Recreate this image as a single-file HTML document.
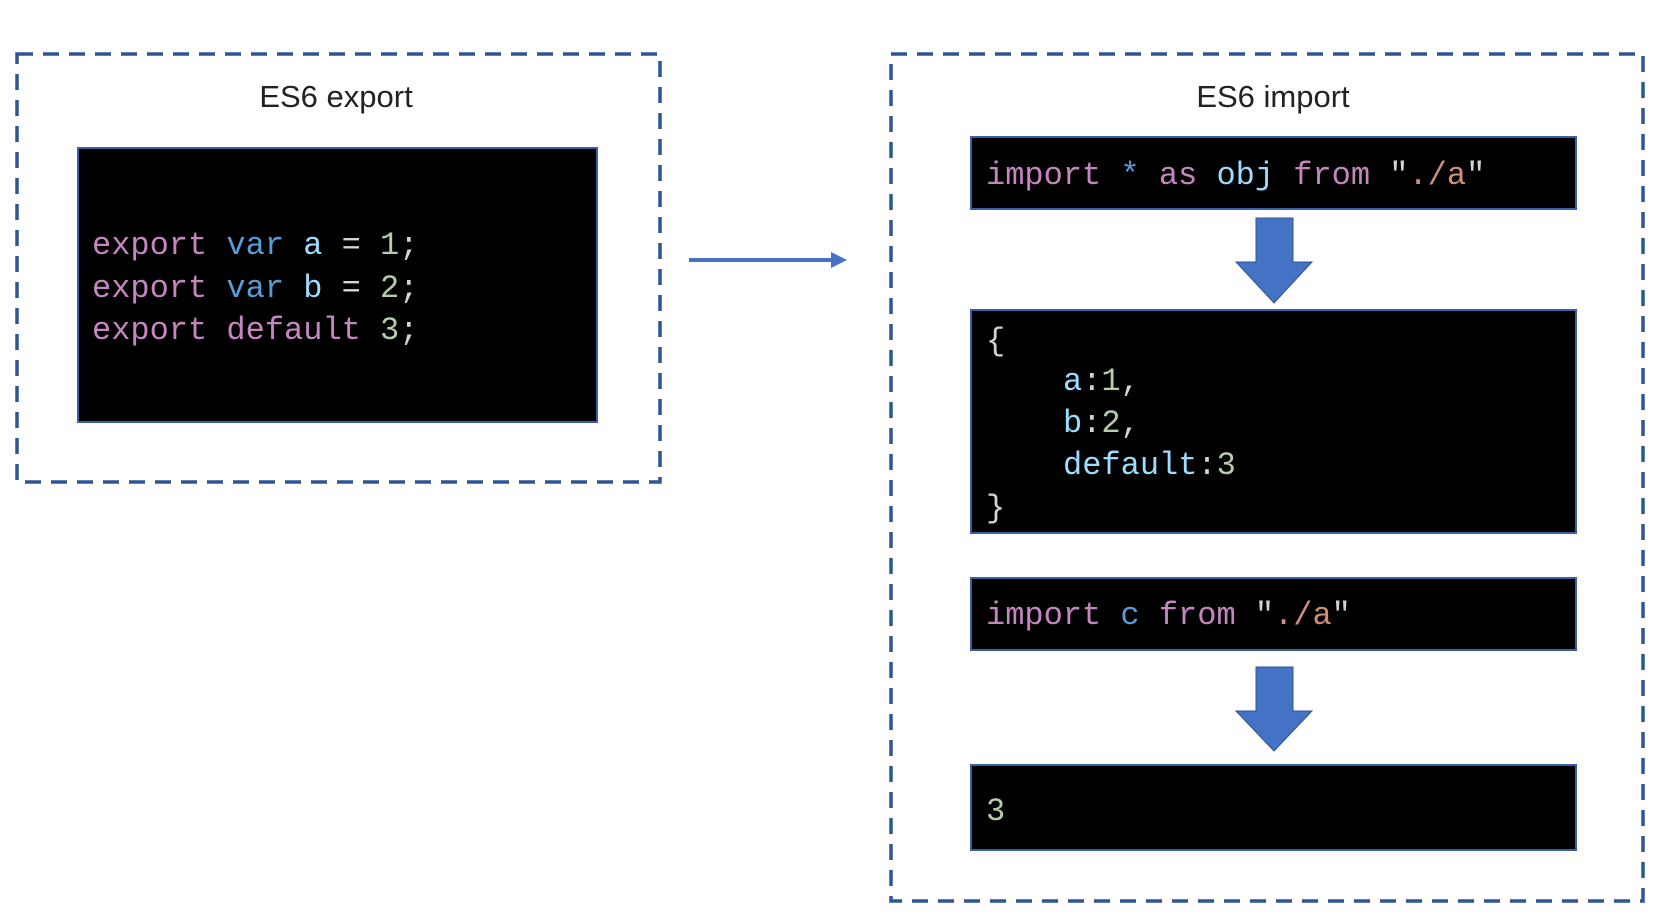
<!DOCTYPE html>
<html><head><meta charset="utf-8"><style>
html,body{margin:0;padding:0;background:#fff;}
svg{display:block;}
.t{font-family:"Liberation Sans",sans-serif;font-size:31px;fill:#222;}
.c{font-family:"Liberation Mono",monospace;font-size:32px;}
.p{fill:#c586c0}.b{fill:#569cd6}.lb{fill:#9cdcfe}.g{fill:#b5cea8}.w{fill:#d4d4d4}.o{fill:#ce9178}
</style></head><body>
<svg width="1669" height="918" viewBox="0 0 1669 918" xmlns="http://www.w3.org/2000/svg">
<rect x="17" y="54" width="643" height="428" fill="none" stroke="#2f5597" stroke-width="3.5" stroke-dasharray="16,10"/>
<rect x="891" y="54" width="752" height="847" fill="none" stroke="#2f5597" stroke-width="3.5" stroke-dasharray="16,10"/>
<text class="t" x="336" y="107" text-anchor="middle">ES6 export</text>
<text class="t" x="1273" y="107" text-anchor="middle">ES6 import</text>
<rect x="78" y="148" width="519" height="274" fill="#000" stroke="#3a5fa8" stroke-width="2"/>
<text class="c" x="92" y="254"><tspan class="p">export</tspan> <tspan class="b">var</tspan> <tspan class="lb">a</tspan> <tspan class="w">=</tspan> <tspan class="g">1</tspan><tspan class="w">;</tspan></text>
<text class="c" x="92" y="297"><tspan class="p">export</tspan> <tspan class="b">var</tspan> <tspan class="lb">b</tspan> <tspan class="w">=</tspan> <tspan class="g">2</tspan><tspan class="w">;</tspan></text>
<text class="c" x="92" y="339"><tspan class="p">export</tspan> <tspan class="p">default</tspan> <tspan class="g">3</tspan><tspan class="w">;</tspan></text>
<line x1="689" y1="260" x2="833" y2="260" stroke="#4472c4" stroke-width="4"/>
<polygon points="831,252 847,260 831,268" fill="#4472c4"/>
<rect x="971" y="137" width="605" height="72" fill="#000" stroke="#3a5fa8" stroke-width="2"/>
<text class="c" x="986" y="184"><tspan class="p">import</tspan> <tspan class="b">*</tspan> <tspan class="p">as</tspan> <tspan class="lb">obj</tspan> <tspan class="p">from</tspan> <tspan class="w">"</tspan><tspan class="o">./a</tspan><tspan class="w">"</tspan></text>
<polygon points="1256,218 1293,218 1293,262 1312,262 1274,303 1236,262 1256,262" fill="#4472c4" stroke="#2f5597" stroke-width="1"/>
<rect x="971" y="310" width="605" height="223" fill="#000" stroke="#3a5fa8" stroke-width="2"/>
<text class="c w" x="986" y="350">{</text>
<text class="c" x="1063" y="390"><tspan class="lb">a</tspan><tspan class="w">:</tspan><tspan class="g">1</tspan><tspan class="w">,</tspan></text>
<text class="c" x="1063" y="432"><tspan class="lb">b</tspan><tspan class="w">:</tspan><tspan class="g">2</tspan><tspan class="w">,</tspan></text>
<text class="c" x="1063" y="474"><tspan class="lb">default</tspan><tspan class="w">:</tspan><tspan class="g">3</tspan></text>
<text class="c w" x="986" y="517">}</text>
<rect x="971" y="578" width="605" height="72" fill="#000" stroke="#3a5fa8" stroke-width="2"/>
<text class="c" x="986" y="624"><tspan class="p">import</tspan> <tspan class="b">c</tspan> <tspan class="p">from</tspan> <tspan class="w">"</tspan><tspan class="o">./a</tspan><tspan class="w">"</tspan></text>
<polygon points="1256,667 1293,667 1293,711 1312,711 1274,751 1236,711 1256,711" fill="#4472c4" stroke="#2f5597" stroke-width="1"/>
<rect x="971" y="765" width="605" height="85" fill="#000" stroke="#3a5fa8" stroke-width="2"/>
<text class="c g" x="986" y="820">3</text>
</svg>
</body></html>
